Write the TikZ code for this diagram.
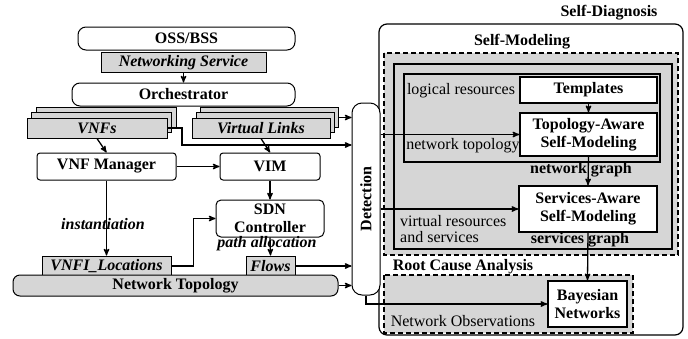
\documentclass[tikz,border=0pt]{standalone}
\usepackage{fontspec}
\setmainfont{Liberation Serif}
\usetikzlibrary{arrows,positioning}
\definecolor{boxgray}{RGB}{214,214,214}

\begin{document}
\begin{tikzpicture}[x=1pt,y=-1pt,
	font=\rmfamily\fontsize{16}{16}\selectfont,
	box/.style={draw,line width=1pt,inner sep=0pt,align=center,font=\rmfamily\fontsize{16}{18}\selectfont\bfseries},
	gbox/.style={box,fill=boxgray,font=\rmfamily\fontsize{16}{18}\selectfont\bfseries\itshape},
	wbox/.style={box,fill=white,line width=1.5pt},
	ttl/.style={inner sep=0pt,font=\rmfamily\fontsize{16}{18}\selectfont\bfseries},
	note/.style={inner sep=0pt,align=left},
	frame/.style={line width=2pt},
	dframe/.style={line width=2pt,dash pattern=on 5pt off 3pt,fill=boxgray},
	conn/.style={->,>=stealth',line width=1.3pt}]
	\useasboundingbox (0,0) rectangle (688,338);
	
	% self-diagnosis side
	\draw[line width=1.2pt,rounded corners=8pt] (379,24) rectangle (683,335);
	\node[ttl] (sdiag) at (609,13) {Self-Diagnosis};
	\node[ttl] (smod) at (522,42) {Self-Modeling};
	\draw[dframe] (384,53) rectangle (678,255);
	\draw[frame] (394,64) rectangle (672,249);
	\draw[frame] (404,74) rectangle (660,162);
	\draw[dframe] (384,275) rectangle (633,333);
	
	\node[wbox,line width=1.2pt,minimum width=137pt,minimum height=26pt] (templ) at (588.5,90) {Templates};
	\node[wbox,minimum width=137pt,minimum height=43pt] (topo) at (588.5,134.5) {Topology-Aware\\Self-Modeling};
	\node[wbox,minimum width=138pt,minimum height=46pt] (srv) at (588,209) {Services-Aware\\Self-Modeling};
	\node[wbox,minimum width=79pt,minimum height=46pt] (bayes) at (587.5,304) {Bayesian\\Networks};
	
	\node[note] (logres) at (461,91) {logical resources};
	\node[note] (nettop) at (463,146) {network topology};
	\node[note,anchor=west] (virtres) at (400,229) {virtual resources\\and services};
	\node[note] (netobs) at (463,321) {Network Observations};
	\node[ttl] (netgraph) at (581,170) {network graph};
	\node[ttl] (srvgraph) at (580,240) {services graph};
	\node[ttl] (rca) at (463,267) {Root Cause Analysis};
	
	% management side
	\node[box,rounded corners=8pt,minimum width=217pt,minimum height=23pt] (oss) at (186.5,38.5) {OSS/BSS};
	\node[gbox,minimum width=165pt,minimum height=20pt] (netsrv) at (183.5,62.5) {Networking Service};
	\node[box,rounded corners=8pt,minimum width=223pt,minimum height=23pt] (orch) at (183.5,94.5) {Orchestrator};
	
	\foreach \k/\t in {2/,1/,0/VNFs}
		\node[gbox,minimum width=140pt,minimum height=20pt,xshift=\k*4.75pt,yshift=\k*5.25pt] (vnf\k) at (97,128) {\t};
	\foreach \k/\t in {2/,1/,0/Virtual Links}
		\node[gbox,minimum width=138pt,minimum height=20pt,xshift=\k*4pt,yshift=\k*5.25pt] (vl\k) at (261,128) {\t};
	
	\node[box,rounded corners=3pt,minimum width=139pt,minimum height=27pt] (vnfm) at (106.5,166.5) {VNF Manager};
	\node[box,rounded corners=3pt,minimum width=100pt,minimum height=27pt] (vim) at (270,166.5) {VIM};
	\node[box,rounded corners=5pt,minimum width=108pt,minimum height=37pt] (sdn) at (270,218.5) {SDN\\Controller};
	\node[gbox,minimum width=129pt,minimum height=20pt] (vnfi) at (106.5,266) {VNFI\_Locations};
	\node[gbox,minimum width=49pt,minimum height=20pt] (flows) at (270.5,266) {Flows};
	\node[box,fill=boxgray,rounded corners=7pt,minimum width=325pt,minimum height=21pt] (ntopo) at (175.5,285.5) {Network Topology};
	
	\node[box,fill=white,rounded corners=10pt,minimum width=28pt,minimum height=192pt] (det) at (366,199) {};
	\node[ttl,rotate=90] (detlbl) at (det.center) {Detection};
	
	\node[ttl,font=\rmfamily\fontsize{16}{18}\selectfont\bfseries\itshape] (inst) at (103,224) {instantiation};
	\node[ttl,font=\rmfamily\fontsize{16}{18}\selectfont\bfseries\itshape] (palloc) at (267,244) {path allocation};
	
	\coordinate (j1) at (182,145);
	\path[conn]
		(netsrv.south) edge (orch.north)
		(vnf0.south) edge (vnfm.north)
		(vl0.south) edge (vim.north)
		(vnfm.east) edge (vim.west)
		(vim.south) edge (sdn.north)
		(vnfm.south) edge (vnfi.north)
		(sdn.south) edge (flows.north)
		(vl2.east) edge (vl2.east -| det.west)
		(flows.east) edge (flows.east -| det.west)
		(ntopo.east) edge (ntopo.east -| det.west)
		(det.east |- topo.west) edge (topo.west)
		(det.east |- srv.west) edge (srv.west)
		(templ.south) edge (topo.north)
		(topo.south) edge (srv.north)
		(srv.south) edge (bayes.north);
	\draw[conn] (vnf0.east) -| (j1) -- (j1 -| det.west);
	\draw[conn] (vnfi.east) -- ++(22,0) |- (sdn.west);
	\draw[conn] (det.south) |- (bayes.west);
\end{tikzpicture}
\end{document}
